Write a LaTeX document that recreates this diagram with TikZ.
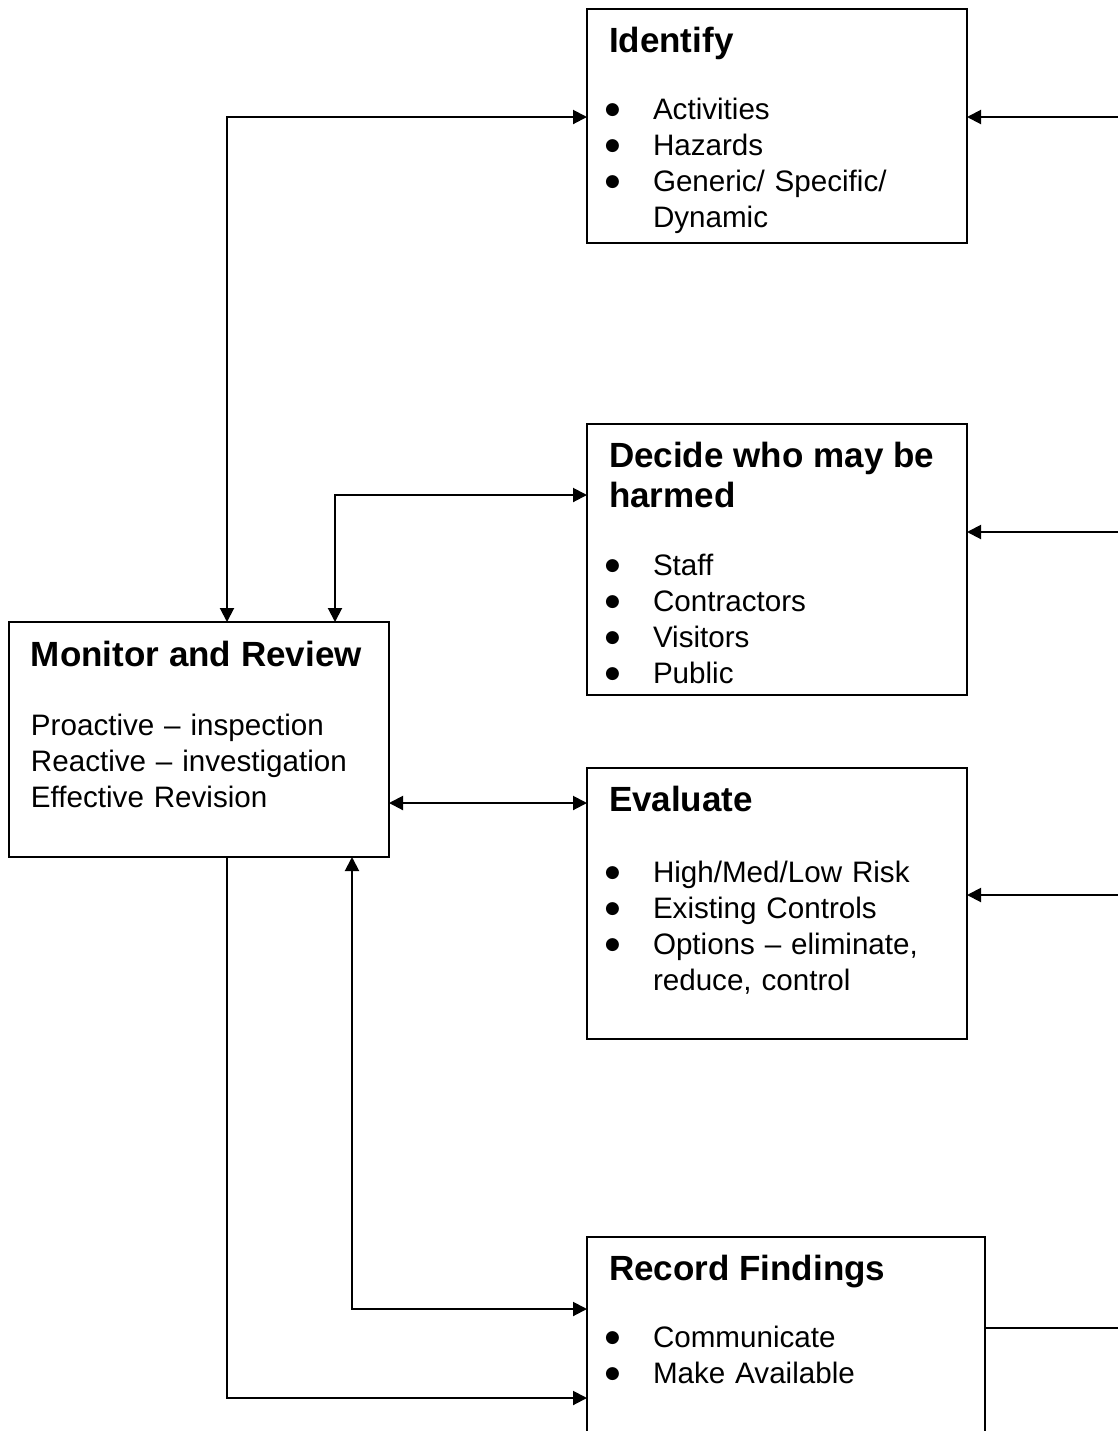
\documentclass[tikz,border=0pt]{standalone}
\usepackage{fontspec}
\setmainfont{Liberation Sans}
\newfontfamily\dotfont{DejaVu Sans}
\usetikzlibrary{arrows.meta}

\newcommand{\headfont}{\fontsize{17.5}{20}\selectfont\bfseries}
\newcommand{\listfont}{\fontsize{14.8}{18}\selectfont}
\newcommand{\bul}{\makebox[22pt][l]{\hspace*{-2pt}\raisebox{2.1pt}{\dotfont\fontsize{8.5}{10}\selectfont ●}}}
\newcommand{\cont}{\hspace*{22pt}}

\begin{document}
\begin{tikzpicture}[x=0.5pt, y=-0.5pt, line width=1pt, >={Triangle[length=7pt,width=7pt]},
	box/.style={draw, anchor=north west, inner sep=0pt, outer sep=0pt, minimum width=190pt},
	boxtext/.style={anchor=base west, inner sep=0pt, text width=178pt, align=left, font=\listfont}]
	\useasboundingbox (0,0) rectangle (1118,1431);
	% boxes
	\node[box, minimum height=117pt] (id) at (587,9) {};
	\node[box, minimum height=135.5pt] (harm) at (587,424) {};
	\node[box, minimum height=135.5pt] (eval) at (587,768) {};
	\node[box, minimum height=117.5pt] (mon) at (9,622) {};
	\node[box, minimum width=199pt, minimum height=120pt] (rec) at (587,1237) {};
	% texts
	\node[boxtext] (idtext) at ([shift={(10.5pt,-21.5pt)}]id.north west)
		{{\headfont Identify\par}\vspace{15.5pt}\bul Activities\\\bul Hazards\\\bul Generic/ Specific/\\\cont Dynamic};
	\node[boxtext] (harmtext) at ([shift={(10.5pt,-21.5pt)}]harm.north west)
		{{\headfont Decide who may be\\harmed\par}\vspace{16pt}\bul Staff\\\bul Contractors\\\bul Visitors\\\bul Public};
	\node[boxtext] (evaltext) at ([shift={(10.5pt,-21.5pt)}]eval.north west)
		{{\headfont Evaluate\par}\vspace{17.5pt}\bul High/Med/Low Risk\\\bul Existing Controls\\\bul Options – eliminate,\\\cont reduce, control};
	\node[boxtext] (montext) at ([shift={(10.5pt,-22pt)}]mon.north west)
		{{\headfont Monitor and Review\par}\vspace{16.5pt}Proactive – inspection\\Reactive – investigation\\Effective Revision};
	\node[boxtext] (rectext) at ([shift={(10.5pt,-21.5pt)}]rec.north west)
		{{\headfont Record Findings\par}\vspace{15.5pt}\bul Communicate\\\bul Make Available};
	% links to monitor and review
	\draw[<->] ([yshift=4.5pt]id.west) -| ([xshift=14pt]mon.north);
	\draw[<->] ([yshift=32.25pt]harm.west) -| ([xshift=68pt]mon.north);
	\draw[<->] ([yshift=-31.75pt]mon.east) -- ([yshift=50.25pt]eval.west);
	\draw[<->] ([xshift=76.5pt]mon.south) |- ([yshift=24pt]rec.west);
	\draw[->] ([xshift=14pt]mon.south) |- ([yshift=-20.5pt]rec.west);
	% lines from the right edge
	\coordinate (r1) at (1118,117);
	\coordinate (r2) at (1118,532);
	\coordinate (r3) at (1118,895);
	\coordinate (r4) at (1118,1328);
	\draw[->] (r1) -- (r1 -| id.east);
	\draw[->] (r2) -- (r2 -| harm.east);
	\draw[->] (r3) -- (r3 -| eval.east);
	\draw (rec.east |- r4) -- (r4);
\end{tikzpicture}
\end{document}
